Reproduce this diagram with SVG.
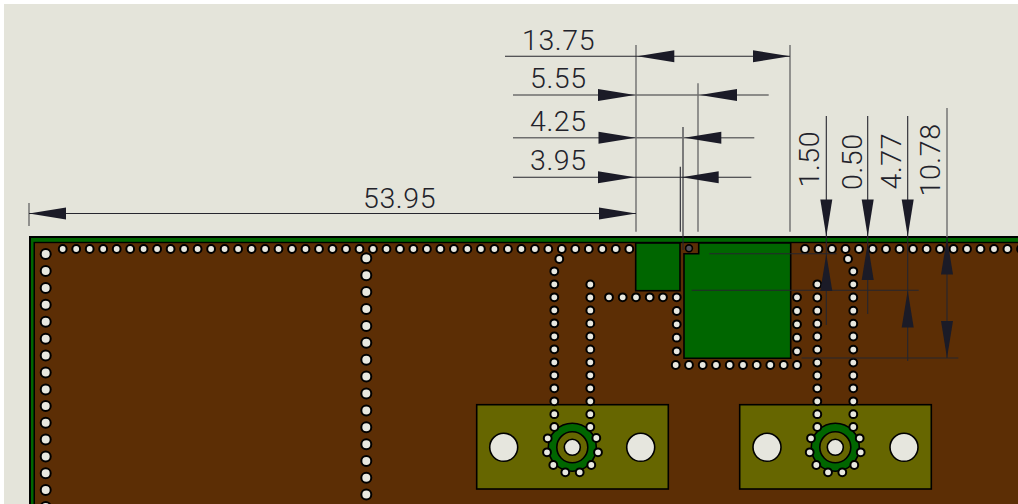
<svg xmlns="http://www.w3.org/2000/svg" width="1018" height="504" viewBox="0 0 1018 504">
<style>
.t{font-family:Roboto,"Liberation Sans",Arial,sans-serif;font-weight:300;font-size:28.5px;letter-spacing:.6px;fill:#22222a}
.g{stroke:#6e6e6e;stroke-width:1.4;fill:none}
.d{stroke:#26262e;stroke-width:1.1;fill:none}
.a{fill:#1b1b27}
.v circle{r:3.9px;fill:#e8e8e0;stroke:#000;stroke-width:2}
.w circle{r:5px;fill:#e8e8e0;stroke:#000;stroke-width:2}
.pad{fill:#006600;stroke:#000;stroke-width:1.6}
.plate{fill:#666600;stroke:#000;stroke-width:1.6}
.hole{fill:#e6e6de;stroke:#000;stroke-width:1.6}
</style>
<defs>
<path id="ar" class="a" d="M0 0L37 -6V6Z"/>
</defs>
<rect width="1018" height="504" fill="#fff"/>
<rect x="4" y="4" width="1014" height="500" fill="#e4e4da"/>
<g id="board">
<rect x="29" y="236" width="1000" height="280" fill="#000"/>
<rect x="31" y="238" width="1000" height="280" fill="#006600"/>
<rect x="33.5" y="241.8" width="1000" height="280" fill="#000"/>
<rect x="35" y="243.2" width="1000" height="280" fill="#5c2e05"/>
</g>
<g id="pad-small"><rect class="pad" x="635.7" y="243" width="44.3" height="47.7"/></g>
<g id="pad-large"><path class="pad" d="M698.7 243H790.7V358.3H684V253.7H698.7Z"/></g>
<g id="via-feed"><circle cx="689" cy="248.3" r="3.4" fill="#50505a" stroke="#000" stroke-width="1.6"/></g>
<g id="connector-left">
<rect class="plate" x="476.7" y="404.7" width="191.6" height="84.3"/>
<circle class="hole" cx="503.7" cy="447.3" r="14"/>
<circle class="hole" cx="640.7" cy="447.3" r="14"/>
<circle cx="572.3" cy="447.3" r="24" fill="#006600" stroke="#000" stroke-width="1.6"/>
<circle cx="572.3" cy="447.3" r="15.5" fill="#666600" stroke="#000" stroke-width="1.6"/>
<circle class="hole" cx="572.3" cy="447.3" r="8"/>
</g>
<g id="connector-right">
<rect class="plate" x="739.7" y="404.7" width="191.6" height="84.3"/>
<circle class="hole" cx="767" cy="447.3" r="14"/>
<circle class="hole" cx="904" cy="447.3" r="14"/>
<circle cx="835.3" cy="447.3" r="24" fill="#006600" stroke="#000" stroke-width="1.6"/>
<circle cx="835.3" cy="447.3" r="15.5" fill="#666600" stroke="#000" stroke-width="1.6"/>
<circle class="hole" cx="835.3" cy="447.3" r="8"/>
</g>
<g id="vias-large" class="w">
<circle cx="45.7" cy="254"/><circle cx="45.7" cy="270.9"/><circle cx="45.7" cy="287.9"/><circle cx="45.7" cy="304.8"/><circle cx="45.7" cy="321.7"/><circle cx="45.7" cy="338.7"/><circle cx="45.7" cy="355.6"/><circle cx="45.7" cy="372.5"/><circle cx="45.7" cy="389.4"/><circle cx="45.7" cy="405.9"/><circle cx="45.7" cy="422.7"/><circle cx="45.7" cy="439.5"/><circle cx="45.7" cy="456.4"/><circle cx="45.7" cy="473.3"/><circle cx="45.7" cy="490"/><circle cx="45.7" cy="507"/>
<circle cx="366.3" cy="258.3"/><circle cx="366.3" cy="275.2"/><circle cx="366.3" cy="292.1"/><circle cx="366.3" cy="309"/><circle cx="366.3" cy="325.9"/><circle cx="366.3" cy="342.8"/><circle cx="366.3" cy="359.7"/><circle cx="366.3" cy="376.6"/><circle cx="366.3" cy="393.5"/><circle cx="366.3" cy="410.4"/><circle cx="366.3" cy="427.3"/><circle cx="366.3" cy="444.3"/><circle cx="366.3" cy="461"/><circle cx="366.3" cy="477.7"/><circle cx="366.3" cy="494.4"/>
</g>
<g id="vias-top" class="v">
<circle cx="62.7" cy="249"/><circle cx="76.2" cy="249"/><circle cx="89.7" cy="249"/><circle cx="103.2" cy="249"/><circle cx="116.7" cy="249"/><circle cx="130.2" cy="249"/><circle cx="143.6" cy="249"/><circle cx="157.1" cy="249"/><circle cx="170.6" cy="249"/><circle cx="184.1" cy="249"/><circle cx="197.6" cy="249"/><circle cx="211.1" cy="249"/><circle cx="224.6" cy="249"/><circle cx="238.1" cy="249"/><circle cx="251.6" cy="249"/><circle cx="265.1" cy="249"/><circle cx="278.5" cy="249"/><circle cx="292" cy="249"/><circle cx="305.5" cy="249"/><circle cx="319" cy="249"/><circle cx="332.5" cy="249"/><circle cx="346" cy="249"/><circle cx="359.5" cy="249"/><circle cx="373" cy="249"/><circle cx="386.5" cy="249"/><circle cx="400" cy="249"/><circle cx="413.4" cy="249"/><circle cx="426.9" cy="249"/><circle cx="440.4" cy="249"/><circle cx="453.9" cy="249"/><circle cx="467.4" cy="249"/><circle cx="480.9" cy="249"/><circle cx="494.4" cy="249"/><circle cx="507.9" cy="249"/><circle cx="521.4" cy="249"/><circle cx="534.9" cy="249"/><circle cx="548.3" cy="249"/><circle cx="561.8" cy="249"/><circle cx="575.3" cy="249"/><circle cx="588.8" cy="249"/><circle cx="602.3" cy="249"/><circle cx="615.8" cy="249"/><circle cx="629.3" cy="249"/>
<circle cx="805" cy="249"/><circle cx="818.5" cy="249"/><circle cx="832" cy="249"/><circle cx="845.5" cy="249"/><circle cx="859" cy="249"/><circle cx="872.6" cy="249"/><circle cx="886" cy="249"/><circle cx="899.5" cy="249"/><circle cx="913" cy="249"/><circle cx="926.6" cy="249"/><circle cx="940" cy="249"/><circle cx="953.5" cy="249"/><circle cx="967" cy="249"/><circle cx="980.5" cy="249"/><circle cx="994" cy="249"/><circle cx="1007.4" cy="249"/><circle cx="1021" cy="249"/>
</g>
<g id="vias-traces" class="v">
<circle cx="559.3" cy="259"/>
<circle cx="554.3" cy="271.3"/><circle cx="554.3" cy="284.3"/><circle cx="554.3" cy="297.3"/><circle cx="554.3" cy="310.3"/><circle cx="554.3" cy="323.3"/><circle cx="554.3" cy="336.3"/><circle cx="554.3" cy="349.3"/><circle cx="554.3" cy="362.3"/><circle cx="554.3" cy="375.3"/><circle cx="554.3" cy="388.3"/><circle cx="554.3" cy="401.3"/><circle cx="554.3" cy="414.2"/><circle cx="554.3" cy="427"/>
<circle cx="590.3" cy="284.5"/><circle cx="590.3" cy="297.5"/><circle cx="590.3" cy="310.4"/><circle cx="590.3" cy="323.4"/><circle cx="590.3" cy="336.4"/><circle cx="590.3" cy="349.4"/><circle cx="590.3" cy="362.3"/><circle cx="590.3" cy="375.3"/><circle cx="590.3" cy="388.3"/><circle cx="590.3" cy="401.3"/><circle cx="590.3" cy="414.2"/><circle cx="590.3" cy="427"/>
<circle cx="609" cy="297.3"/><circle cx="622.7" cy="297.3"/><circle cx="636" cy="297.3"/><circle cx="649.7" cy="297.3"/><circle cx="663" cy="297.3"/><circle cx="676.7" cy="297.3"/>
<circle cx="676.7" cy="311"/><circle cx="676.7" cy="324.3"/><circle cx="676.7" cy="337.7"/><circle cx="676.7" cy="351.3"/>
<circle cx="675.7" cy="365"/><circle cx="689" cy="365"/><circle cx="702.7" cy="365"/><circle cx="716" cy="365"/><circle cx="729.7" cy="365"/><circle cx="743" cy="365"/><circle cx="756.7" cy="365"/><circle cx="770.3" cy="365"/><circle cx="783.7" cy="365"/><circle cx="797" cy="365"/>
<circle cx="797" cy="297.3"/><circle cx="797" cy="311"/><circle cx="797" cy="324.3"/><circle cx="797" cy="337.7"/><circle cx="797" cy="351.3"/>
<circle cx="817.3" cy="284.3"/><circle cx="817.3" cy="297.5"/><circle cx="817.3" cy="310.7"/><circle cx="817.3" cy="323.7"/><circle cx="817.3" cy="336.5"/><circle cx="817.3" cy="349.6"/><circle cx="817.3" cy="362.6"/><circle cx="817.3" cy="375.5"/><circle cx="817.3" cy="388.3"/><circle cx="817.3" cy="401.3"/><circle cx="817.3" cy="414.2"/><circle cx="817.3" cy="427"/>
<circle cx="848" cy="259"/><circle cx="853.3" cy="271.3"/><circle cx="853.3" cy="284.3"/><circle cx="853.3" cy="297.5"/><circle cx="853.3" cy="310.7"/><circle cx="853.3" cy="323.7"/><circle cx="853.3" cy="336.5"/><circle cx="853.3" cy="349.6"/><circle cx="853.3" cy="362.6"/><circle cx="853.3" cy="375.5"/><circle cx="853.3" cy="388.3"/><circle cx="853.3" cy="401.3"/><circle cx="853.3" cy="414.2"/><circle cx="853.3" cy="427"/>
</g>
<g id="vias-ring-left" class="v">
<circle cx="547.7" cy="438.3"/><circle cx="547" cy="452.3"/><circle cx="553.3" cy="465"/><circle cx="565.3" cy="472.3"/><circle cx="579.7" cy="472.3"/><circle cx="591.3" cy="465"/><circle cx="598" cy="452.3"/><circle cx="596.3" cy="438"/>
</g>
<g id="vias-ring-right" class="v">
<circle cx="811" cy="438.3"/><circle cx="809.7" cy="452.3"/><circle cx="816.3" cy="465"/><circle cx="828" cy="472.3"/><circle cx="842.3" cy="472.3"/><circle cx="854.3" cy="465"/><circle cx="860.7" cy="452.3"/><circle cx="859.7" cy="438.3"/>
</g>
<g id="dimensions">
<path class="g" d="M636 45V231.7M790 45V231.7M698 83.3V231.7M29 203V226"/>
<path class="d" d="M683 127V250M680.3 166.7V231.7"/>
<path class="d" d="M505 56.3H790M513 177.3H751.3M29 213.5H636"/>
<path class="g" d="M513 95H768.7M513 137.7H754.3"/>
<path class="d" d="M709.3 253.7H836.7M691.7 290.3H918.7M801.7 358H958.3"/>
<path class="d" d="M826.3 116V325M867.7 116V314M907.7 116V361"/>
<path class="g" d="M947 108V237"/><path class="d" d="M947 237V358"/>
<use href="#ar" transform="translate(637.3 56.3)"/>
<use href="#ar" transform="translate(790 56.3) rotate(180)"/>
<use href="#ar" transform="translate(635 95) rotate(180)"/>
<use href="#ar" transform="translate(700 95)"/>
<use href="#ar" transform="translate(635.5 137.7) rotate(180)"/>
<use href="#ar" transform="translate(684.3 137.7)"/>
<use href="#ar" transform="translate(635 177.3) rotate(180)"/>
<use href="#ar" transform="translate(681.7 177.3)"/>
<use href="#ar" transform="translate(29 213.5)"/>
<use href="#ar" transform="translate(636 213.5) rotate(180)"/>
<use href="#ar" transform="translate(826.3 236.5) rotate(-90)"/>
<use href="#ar" transform="translate(826.3 254) rotate(90)"/>
<use href="#ar" transform="translate(867.7 236.5) rotate(-90)"/>
<use href="#ar" transform="translate(867.7 243) rotate(90)"/>
<use href="#ar" transform="translate(907.7 236.5) rotate(-90)"/>
<use href="#ar" transform="translate(907.7 290.5) rotate(90)"/>
<use href="#ar" transform="translate(947 237.5) rotate(90)"/>
<use href="#ar" transform="translate(947 358) rotate(-90)"/>
</g>
<g id="labels">
<text class="t" x="522" y="49.5">13.75</text>
<text class="t" x="530" y="88">5.55</text>
<text class="t" x="530" y="130.7">4.25</text>
<text class="t" x="530" y="170">3.95</text>
<text class="t" x="363" y="207.5">53.95</text>
<text class="t" transform="translate(819 187.5) rotate(-90)">1.50</text>
<text class="t" transform="translate(861.7 190) rotate(-90)">0.50</text>
<text class="t" transform="translate(900.7 189.5) rotate(-90)">4.77</text>
<text class="t" transform="translate(940 196.5) rotate(-90)">10.78</text>
</g>
</svg>
